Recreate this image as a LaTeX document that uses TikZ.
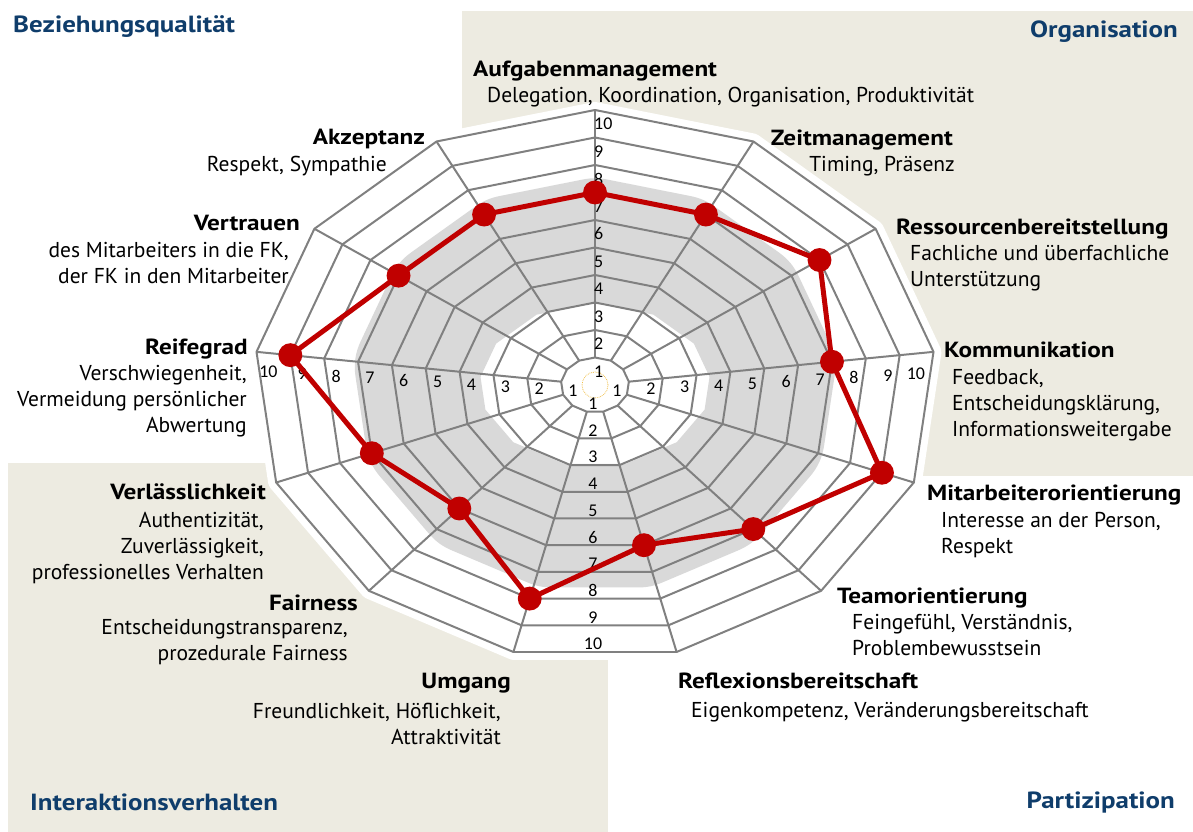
\documentclass[tikz,border=0pt]{standalone}
\usepackage{fontspec}
\setmainfont{PT Sans}
\newfontfamily\titelfont{PT Sans}[FakeStretch=1.15]
\newfontfamily\zahlfont{Carlito}
\usetikzlibrary{positioning}
\definecolor{beige}{HTML}{EDEBE1}
\definecolor{navy}{HTML}{0F3D6B}
\definecolor{rot}{HTML}{C00000}
\definecolor{bandgrau}{HTML}{D9D9D9}
\definecolor{netzgrau}{HTML}{808080}
\definecolor{kreisgelb}{HTML}{F2C14E}
\newcommand{\netzx}{34.1}
\newcommand{\netzy}{27.5}
\tikzset{
  bereich/.style={font=\titelfont\fontsize{23.5}{27}\selectfont\bfseries, text=navy, inner sep=0pt},
  titel/.style={font=\titelfont\fontsize{22}{26}\selectfont\bfseries, inner sep=0pt},
  untertitel/.style={font=\fontsize{21.6}{26.3}\selectfont, inner sep=0pt},
  zahl/.style={font=\zahlfont\fontsize{18}{20}\selectfont, inner sep=0pt},
  webline/.style={draw=netzgrau, line width=2pt, line join=round},
  punkt/.style={circle, fill=rot, minimum size=24pt, inner sep=0pt}
}
\begin{document}
\begin{tikzpicture}[x=1bp,y=1bp]
\useasboundingbox (0,0) rectangle (1193,832);
\fill[white] (0,0) rectangle (1193,832);
% Hintergrund
\fill[beige] (462,356) rectangle (1193,821);
\fill[beige] (8,0) rectangle (608,369);
\begin{scope}[shift={(595,447)}]
  \coordinate (mitte) at (0,0);
  \foreach \k in {0,...,12} {
    \foreach \r in {1,...,10}
      \coordinate (n\k-\r) at ({\netzx*\r*cos(90-\k*360/13)},{\netzy*\r*sin(90-\k*360/13)});
    \coordinate (b\k) at ({\netzx*5.27*cos(90-\k*360/13)},{\netzy*5.27*sin(90-\k*360/13)});
  }
  \foreach \k/\w in {0/7,1/7,2/8,3/7,4/9,5/7,6/6,7/8,8/6,9/7,10/9,11/7,12/7}
    \coordinate (v\k) at ({\netzx*\w*cos(90-\k*360/13)},{\netzy*\w*sin(90-\k*360/13)});
\end{scope}
% Netz
\filldraw[white, line width=16pt, line join=round] (n0-10) \foreach \k in {1,...,12} {-- (n\k-10)} -- cycle;
\draw[bandgrau, line width=124pt, line join=round] (b0) \foreach \k in {1,...,12} {-- (b\k)} -- cycle;
\foreach \r in {1,...,10}
  \draw[webline] (n0-\r) \foreach \k in {1,...,12} {-- (n\k-\r)} -- cycle;
\foreach \k in {0,...,12}
  \draw[webline] (n\k-1) -- (n\k-10);
\draw[kreisgelb, densely dotted, line width=0.8pt] (mitte) circle (13);
% Skala
\foreach \k in {1,...,10} {
  \pgfmathsetmacro{\versatz}{\k==10 ? 0.52 : 0.35}
  \node[zahl, anchor=west] (zo\k) at (594,{433+27.5*\k}) {\k};
  \node[zahl] (zu\k) at (593,{447-26.7*(\k-0.3)}) {\k};
  \node[zahl] (zr\k) at ({595+33.85*(\k-\versatz)},{441+1.9*(\k-1)}) {\k};
  \node[zahl] (zl\k) at ({595-33.85*(\k-0.35)},{441.3+2.1*(\k-1)}) {\k};
}
% Werte
\draw[rot, line width=5pt, line join=round] (v0) \foreach \k in {1,...,12} {-- (v\k)} -- cycle;
\foreach \k in {0,...,12}
  \node[punkt] (p\k) at (v\k) {};
% Beschriftung
\node[titel, anchor=base west] (t0) at (473,755) {Aufgabenmanagement};
\node[untertitel, anchor=base west] (u0) at (487,729) {Delegation, Koordination, Organisation, Produktivität};
\node[titel, anchor=base east] (t1) at (953,686) {Zeitmanagement};
\node[untertitel, anchor=base east] (u1) at (955,660) {Timing, Präsenz};
\node[titel, anchor=base west] (t2) at (896,597) {Ressourcenbereitstellung};
\node[untertitel, anchor=base west, align=left] (u2) at (910,545.7) {Fachliche und überfachliche\\Unterstützung};
\node[titel, anchor=base west] (t3) at (944,474) {Kommunikation};
\node[untertitel, anchor=base west, align=left] (u3) at (952,395.4) {Feedback,\\Entscheidungsklärung,\\Informationsweitergabe};
\node[titel, anchor=base west] (t4) at (927,331) {Mitarbeiterorientierung};
\node[untertitel, anchor=base west, align=left] (u4) at (941,278.7) {Interesse an der Person,\\Respekt};
\node[titel, anchor=base west] (t5) at (837,228) {Teamorientierung};
\node[untertitel, anchor=base west, align=left] (u5) at (852,176.7) {Feingefühl, Verständnis,\\Problembewusstsein};
\node[titel, anchor=base west] (t6) at (678,143) {Reflexionsbereitschaft};
\node[untertitel, anchor=base west] (u6) at (691,114) {Eigenkompetenz, Veränderungsbereitschaft};
\node[titel, anchor=base east] (t7) at (511,143) {Umgang};
\node[untertitel, anchor=base east, align=right] (u7) at (501,87.7) {Freundlichkeit, Höflichkeit,\\Attraktivität};
\node[titel, anchor=base east] (t8) at (358,221) {Fairness};
\node[untertitel, anchor=base east, align=right] (u8) at (348,171.7) {Entscheidungstransparenz,\\prozedurale Fairness};
\node[titel, anchor=base east] (t9) at (266,332) {Verlässlichkeit};
\node[untertitel, anchor=base east, align=right] (u9) at (264,252.4) {Authentizität,\\Zuverlässigkeit,\\professionelles Verhalten};
\node[titel, anchor=base east] (t10) at (248,477) {Reifegrad};
\node[untertitel, anchor=base east, align=right] (u10) at (247,399.4) {Verschwiegenheit,\\Vermeidung persönlicher\\Abwertung};
\node[titel, anchor=base east] (t11) at (300,601) {Vertrauen};
\node[untertitel, anchor=base east, align=right] (u11) at (289,548.7) {des Mitarbeiters in die FK,\\der FK in den Mitarbeiter};
\node[titel, anchor=base east] (t12) at (425,687) {Akzeptanz};
\node[untertitel, anchor=base east] (u12) at (387,660) {Respekt, Sympathie};
% Bereiche
\node[bereich, anchor=base west] (h1) at (13,799) {Beziehungsqualität};
\node[bereich, anchor=base east] (h2) at (1178,794) {Organisation};
\node[bereich, anchor=base west] (h3) at (30,21) {Interaktionsverhalten};
\node[bereich, anchor=base east] (h4) at (1175,23) {Partizipation};
\end{tikzpicture}
\end{document}
